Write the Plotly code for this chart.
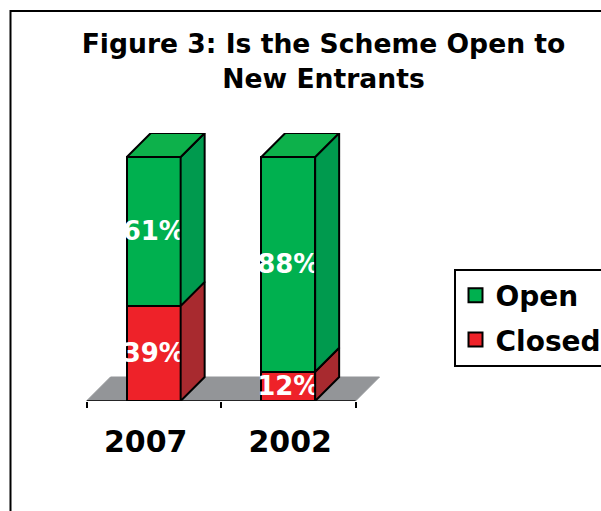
import plotly.graph_objects as go

categories = ["2007", "2002"]
closed = [39, 12]
open_ = [61, 88]
closed_labels = ["39%", "12%"]
open_labels = ["61%", "88%"]
title = "Figure 3: Is the Scheme Open to<br>New Entrants"

W, H = 601, 511
L, R, T, B = 86.5, 381.5, 133, 401
CAT_PX = 134.5
UNIT_PX = 2.44
BAR_W = 0.4
DX = 24 / CAT_PX
DY = 24 / UNIT_PX
FONT = "DejaVu Sans"
G_FRONT, G_SIDE, G_TOP = "#00b04f", "#009a4e", "#0db14b"
R_FRONT, R_SIDE = "#ee2229", "#a82a2f"
GREY = "#939598"
xs = list(range(len(categories)))
# the category labels sit slightly off their bar centres in the reference
LABEL_NUDGE = [-8 / CAT_PX, 2 / CAT_PX]

fig = go.Figure()
fig.add_bar(name="Closed", x=xs, y=closed, width=BAR_W, marker=dict(color=R_FRONT, line=dict(color="black", width=2)),
            text=closed_labels, showlegend=False)
fig.add_bar(name="Open", x=xs, y=open_, width=BAR_W, marker=dict(color=G_FRONT, line=dict(color="black", width=2)),
            text=open_labels, showlegend=False)
fig.update_traces(textposition="inside", insidetextanchor="middle", textangle=0, constraintext="none",
                  insidetextfont=dict(family=FONT, size=26, color="white", weight=700), hoverinfo="skip")


def poly(px, py, color):
    fig.add_scatter(x=px, y=py, mode="lines", fill="toself", fillcolor=color, showlegend=False,
                    line=dict(color="black", width=2), hoverinfo="skip")


for i, (c, o) in enumerate(zip(closed, open_)):
    a, b = i - BAR_W / 2, i + BAR_W / 2
    t = c + o
    poly([b, b + DX, b + DX, b, b], [0, DY, c + DY, c, 0], R_SIDE)
    poly([b, b + DX, b + DX, b, b], [c, c + DY, t + DY, t, c], G_SIDE)
    poly([a, a + DX, b + DX, b, a], [t, t + DY, t + DY, t, t], G_TOP)

# axis baseline and floor run across the category slots
x0, x1 = -0.5, len(categories) - 0.5
fig.add_scatter(x=[x0, x1], y=[0, 0], mode="lines", line=dict(color="black", width=1.5),
                showlegend=False, hoverinfo="skip")
fig.add_shape(type="path", xref="x", yref="y", layer="below", fillcolor=GREY, line=dict(color=GREY, width=1),
              path=f"M {x0} 0 L {x0 + DX} {DY} L {x1 + DX} {DY} L {x1} 0 Z")
# outer chart frame, open at right and bottom
fig.add_shape(type="path", xref="paper", yref="paper", line=dict(color="black", width=2),
              path=f"M {10.5 / W} 0 L {10.5 / W} {1 - 11 / H} L 1 {1 - 11 / H}")

# legend keys: square swatches larger than the bar legend glyph allows
for name, color in (("Open", G_FRONT), ("Closed", R_FRONT)):
    fig.add_scatter(name=name, legendgroup=name, x=[None], y=[None], mode="markers",
                    marker=dict(symbol="square", size=14, color=color, line=dict(color="black", width=2)))

fig.update_layout(
    width=W, height=H, margin=dict(l=0, r=0, t=0, b=0, autoexpand=False), barmode="stack", bargap=0.6,
    paper_bgcolor="white", plot_bgcolor="rgba(0,0,0,0)",
    title=dict(text=title, x=323.5 / W, xanchor="center", xref="paper", y=1 - 53 / H, yanchor="top", yref="container",
               automargin=False, font=dict(family=FONT, size=26.6, color="black", weight=700)),
    xaxis=dict(domain=[L / W, R / W], range=[-0.5, -0.5 + (R - L) / CAT_PX], showgrid=False, zeroline=False,
               tickvals=[x + n for x, n in zip(xs, LABEL_NUDGE)], ticktext=categories, ticks="", ticklabelstandoff=20,
               automargin=False, tickfont=dict(family=FONT, size=30, color="black", weight=700),
               minor=dict(tickvals=[-0.5, 0.5, 1.5], ticks="outside", ticklen=6, tickwidth=1.5, tickcolor="black")),
    yaxis=dict(domain=[1 - B / H, 1 - T / H], range=[0, (B - T) / UNIT_PX], visible=False),
    legend=dict(x=453.5 / W, xanchor="left", y=1 - 268.5 / H, yanchor="top", traceorder="grouped", tracegroupgap=5,
                bordercolor="black", borderwidth=2, bgcolor="white",
                font=dict(family=FONT, size=28, color="black", weight=700), itemwidth=30),
)
fig.write_html("out.html", config=dict(displayModeBar=False), post_script="document.body.style.margin='0';")
